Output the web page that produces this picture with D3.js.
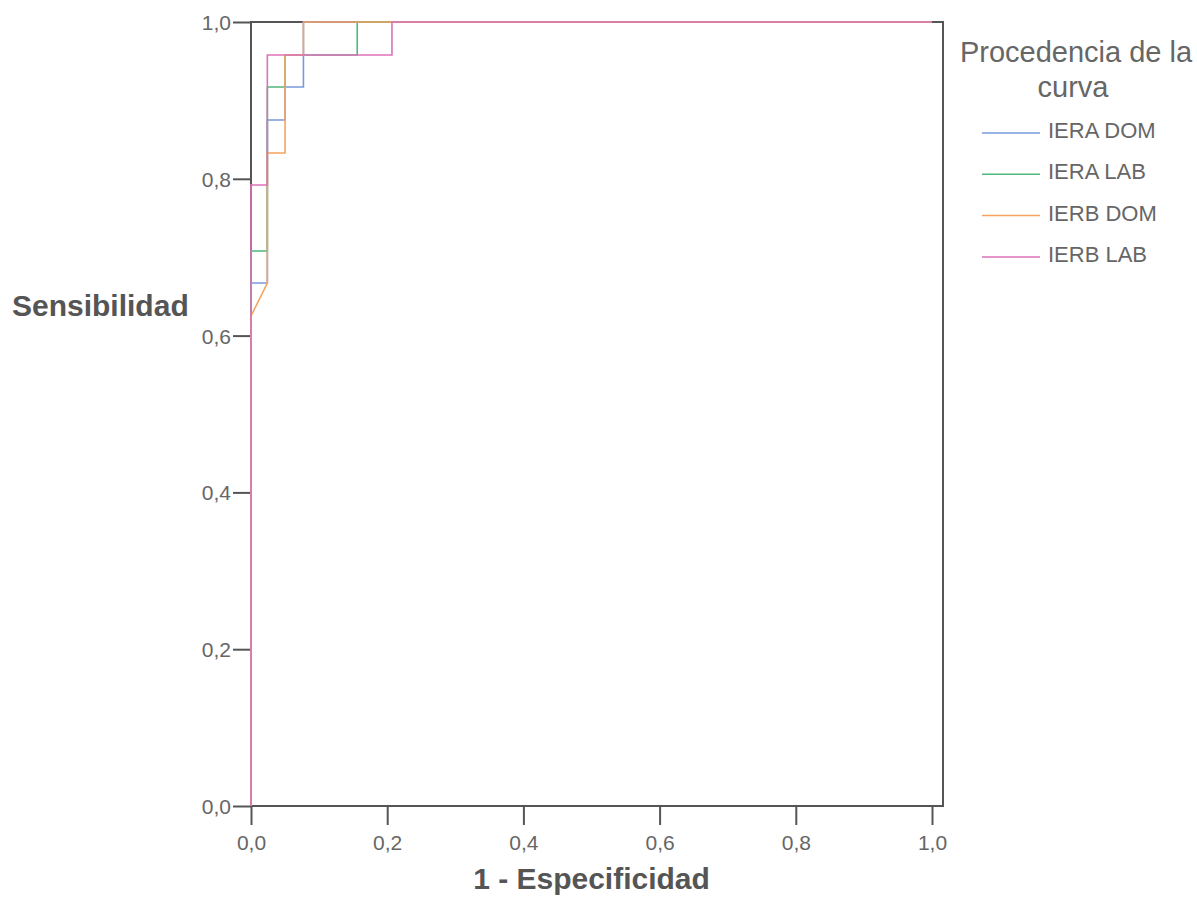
<!DOCTYPE html>
<html>
<head>
<script src="https://d3js.org/d3.v7.min.js"></script>
<style>
  body { margin: 0; background: #fff; }
  svg { font-family: "Liberation Sans", Arial, sans-serif; }
  .tick text { fill: #666; font-size: 21px; }
  .tick line { stroke: #555; stroke-width: 2px; }
  .curve { fill: none; stroke-width: 1.6px; }
</style>
</head>
<body>
<div id="chart"></div>
<script>
// ROC curves: 1 - specificity (x) vs sensitivity (y)
const seriesNames = ["IERA DOM", "IERA LAB", "IERB DOM", "IERB LAB"];
const seriesColors = ["#7a98dc", "#4fb87c", "#f7a25e", "#de72b8"];

const ieraDomX = [0, 0, 0.024, 0.024, 0.05, 0.05, 0.077, 0.077, 1];
const ieraDomY = [0, 0.667, 0.667, 0.875, 0.875, 0.917, 0.917, 1, 1];

const ieraLabX = [0, 0, 0.024, 0.024, 0.05, 0.05, 0.156, 0.156, 1];
const ieraLabY = [0, 0.708, 0.708, 0.917, 0.917, 0.958, 0.958, 1, 1];

const ierbDomX = [0, 0, 0.024, 0.024, 0.05, 0.05, 0.077, 0.077, 1];
const ierbDomY = [0, 0.625, 0.667, 0.833, 0.833, 0.958, 0.958, 1, 1];

const ierbLabX = [0, 0, 0.024, 0.024, 0.207, 0.207, 1];
const ierbLabY = [0, 0.792, 0.792, 0.958, 0.958, 1, 1];

const tickValues = [0, 0.2, 0.4, 0.6, 0.8, 1.0];

const width = 1197, height = 905;
const x = d3.scaleLinear().domain([0, 1]).range([251, 932]);
const y = d3.scaleLinear().domain([0, 1]).range([806, 22]);
const fmt = d => d3.format(".1f")(d).replace(".", ",");

const svg = d3.select("#chart").append("svg")
  .attr("width", width)
  .attr("height", height);

// frame round the plot
svg.append("rect")
  .attr("x", x(0))
  .attr("y", y(1))
  .attr("width", x(1) + 11 - x(0))
  .attr("height", y(0) - y(1))
  .attr("fill", "none")
  .attr("stroke", "#555")
  .attr("stroke-width", 2);

// axes
svg.append("g")
  .attr("transform", `translate(${x(0)},0)`)
  .call(d3.axisLeft(y).tickValues(tickValues).tickFormat(fmt).tickSize(18).tickPadding(2))
  .call(g => g.select(".domain").remove())
  .selectAll("text").attr("dy", "0.36em");

svg.append("g")
  .attr("transform", `translate(0,${y(0)})`)
  .call(d3.axisBottom(x).tickValues(tickValues).tickFormat(fmt).tickSize(19).tickPadding(10))
  .call(g => g.select(".domain").remove());

// axis titles
svg.append("text")
  .attr("x", 12)
  .attr("y", 316)
  .attr("font-size", 30)
  .attr("font-weight", "bold")
  .attr("fill", "#555")
  .text("Sensibilidad");

svg.append("text")
  .attr("x", (x(0) + x(1)) / 2)
  .attr("y", 889)
  .attr("text-anchor", "middle")
  .attr("font-size", 30)
  .attr("font-weight", "bold")
  .attr("fill", "#555")
  .text("1 - Especificidad");

// curves
const series = [
  { name: seriesNames[0], xs: ieraDomX, ys: ieraDomY },
  { name: seriesNames[1], xs: ieraLabX, ys: ieraLabY },
  { name: seriesNames[2], xs: ierbDomX, ys: ierbDomY },
  { name: seriesNames[3], xs: ierbLabX, ys: ierbLabY }
];

const line = d3.line().x(d => x(d[0])).y(d => y(d[1]));

svg.selectAll(".curve")
  .data(series)
  .enter().append("path")
  .attr("class", "curve")
  .attr("stroke", (d, i) => seriesColors[i])
  .attr("d", d => line(d.xs.map((v, i) => [v, d.ys[i]])));

// legend
const legend = svg.append("g");
legend.append("text")
  .attr("x", 1076).attr("y", 62)
  .attr("text-anchor", "middle")
  .attr("font-size", 29)
  .attr("fill", "#666")
  .text("Procedencia de la");
legend.append("text")
  .attr("x", 1073).attr("y", 97)
  .attr("text-anchor", "middle")
  .attr("font-size", 29)
  .attr("fill", "#666")
  .text("curva");

const item = legend.selectAll(".item")
  .data(seriesNames)
  .enter().append("g")
  .attr("transform", (d, i) => `translate(0,${133 + i * 41.3})`);

item.append("line")
  .attr("x1", 982).attr("x2", 1040)
  .attr("stroke", (d, i) => seriesColors[i])
  .attr("stroke-width", 1.5);

item.append("text")
  .attr("x", 1048).attr("y", 5)
  .attr("font-size", 22)
  .attr("fill", "#666")
  .text(d => d);
</script>
</body>
</html>
